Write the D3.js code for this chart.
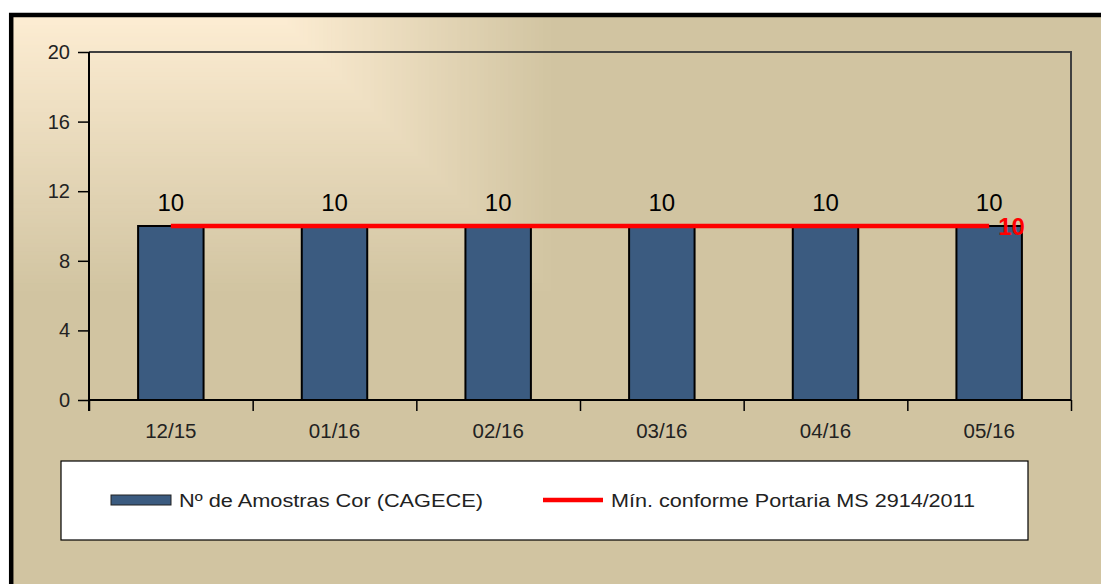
<!DOCTYPE html>
<html>
<head>
<meta charset="utf-8">
<script src="https://cdn.jsdelivr.net/npm/d3@7"></script>
<style>
  body { margin: 0; background: #ffffff; }
  text { font-family: "Liberation Sans", Arial, sans-serif; }
</style>
</head>
<body>
<div id="chart"></div>
<script>
// data
var months = ["12/15", "01/16", "02/16", "03/16", "04/16", "05/16"];
var amostras = [10, 10, 10, 10, 10, 10];
var minimo = [10, 10, 10, 10, 10, 10];
var yTicks = [0, 4, 8, 12, 16, 20];
var legendNames = ["Nº de Amostras Cor (CAGECE)", "Mín. conforme Portaria MS 2914/2011"];

var width = 1101, height = 584;
var plot = {left: 89, top: 52, right: 1071, bottom: 400};

var svg = d3.select("#chart")
    .append("svg")
    .attr("width", width)
    .attr("height", height);

// background, darker tan everywhere
svg.append("rect")
    .attr("x", 11).attr("y", 15)
    .attr("width", width).attr("height", height)
    .attr("fill", "#d1c4a1");

// rectangular gradient coming from the top left corner
var light = "#fdedd3", dark = "#d1c4a1";
var steps = 70;
var bg = svg.append("g").attr("class", "bg");
for (var i = 0; i <= steps; i++) {
  var t = 1 - i / steps;
  bg.append("rect")
      .attr("x", 11)
      .attr("y", 15)
      .attr("width", 280 + 275 * t - 11)
      .attr("height", 17 + 278 * t - 15)
      .attr("fill", d3.interpolateRgb(light, dark)(t));
}

// outer frame
svg.append("rect")
    .attr("x", 11.2).attr("y", 15)
    .attr("width", width + 20).attr("height", height + 20)
    .attr("fill", "none")
    .attr("stroke", "#000")
    .attr("stroke-width", 4.5);

// scales
var y = d3.scaleLinear()
    .domain([0, 20])
    .range([plot.bottom, plot.top]);

var x = d3.scaleBand()
    .domain(months)
    .range([plot.left, plot.right])
    .paddingInner(0.6)
    .paddingOuter(0.3);

var xEdges = d3.scaleLinear()
    .domain([0, months.length])
    .range([plot.left, plot.right]);

// top and right border of plot area
svg.append("path")
    .attr("d", "M" + plot.left + "," + plot.top + "H" + plot.right + "V" + plot.bottom)
    .attr("fill", "none")
    .attr("stroke", "#404040")
    .attr("stroke-width", 2);

// bars
svg.append("g")
  .selectAll("rect")
    .data(amostras)
  .enter().append("rect")
    .attr("x", function(d, i) { return x(months[i]); })
    .attr("y", function(d) { return y(d); })
    .attr("width", x.bandwidth())
    .attr("height", function(d) { return y(0) - y(d); })
    .attr("fill", "#3b5b80")
    .attr("stroke", "#000")
    .attr("stroke-width", 2);

// value labels
svg.append("g")
  .selectAll("text")
    .data(amostras)
  .enter().append("text")
    .attr("x", function(d, i) { return x(months[i]) + x.bandwidth() / 2; })
    .attr("y", function(d) { return y(d) - 15; })
    .attr("text-anchor", "middle")
    .style("font-size", "24px")
    .attr("fill", "#000")
    .text(function(d) { return d; });

// y axis
var gy = svg.append("g")
    .attr("transform", "translate(" + plot.left + ",0)")
    .call(d3.axisLeft(y).tickValues(yTicks).tickSize(11).tickPadding(8));
gy.select(".domain").attr("stroke", "#000").attr("stroke-width", 2)
    .attr("d", "M0," + plot.top + "V" + (plot.bottom + 11));
gy.selectAll(".tick line").attr("stroke", "#000").attr("stroke-width", 1.5);
gy.selectAll("text").style("font-size", "20px").attr("fill", "#222");

// x axis: tick marks on category edges
var gx = svg.append("g")
    .attr("transform", "translate(0," + plot.bottom + ")")
    .call(d3.axisBottom(xEdges).tickValues(d3.range(months.length + 1)).tickSize(11).tickFormat(""));
gx.select(".domain").attr("stroke", "#000").attr("stroke-width", 2)
    .attr("d", "M" + plot.left + ",0H" + plot.right);
gx.selectAll(".tick line").attr("stroke", "#000").attr("stroke-width", 1.5);

// x axis labels
var gxl = svg.append("g")
    .attr("transform", "translate(0," + plot.bottom + ")")
    .call(d3.axisBottom(x).tickSize(0).tickPadding(23));
gxl.select(".domain").remove();
gxl.selectAll("text").style("font-size", "20.5px").attr("fill", "#222");

// red minimum line
var line = d3.line()
    .x(function(d, i) { return x(months[i]) + x.bandwidth() / 2; })
    .y(function(d) { return y(d); });

svg.append("path")
    .datum(minimo)
    .attr("d", line)
    .attr("fill", "none")
    .attr("stroke", "#ff0000")
    .attr("stroke-width", 4.5);

var last = minimo.length - 1;
svg.append("text")
    .attr("x", x(months[last]) + x.bandwidth() / 2 + 9)
    .attr("y", y(minimo[last]) + 9)
    .style("font-size", "24px")
    .style("font-weight", "bold")
    .attr("fill", "#ff0000")
    .text(minimo[last]);

// legend
var legend = svg.append("g").attr("class", "legend");
legend.append("rect")
    .attr("x", 61).attr("y", 461)
    .attr("width", 967).attr("height", 79)
    .attr("fill", "#fff")
    .attr("stroke", "#000")
    .attr("stroke-width", 1.2);

legend.append("rect")
    .attr("x", 111).attr("y", 495)
    .attr("width", 60).attr("height", 10)
    .attr("fill", "#3b5b80")
    .attr("stroke", "#222")
    .attr("stroke-width", 1);

legend.append("text")
    .attr("x", 179).attr("y", 507)
    .attr("textLength", 304)
    .attr("lengthAdjust", "spacingAndGlyphs")
    .style("font-size", "18px")
    .attr("fill", "#222")
    .text(legendNames[0]);

legend.append("line")
    .attr("x1", 543).attr("x2", 603)
    .attr("y1", 500).attr("y2", 500)
    .attr("stroke", "#ff0000")
    .attr("stroke-width", 4.5);

legend.append("text")
    .attr("x", 611).attr("y", 507)
    .attr("textLength", 364)
    .attr("lengthAdjust", "spacingAndGlyphs")
    .style("font-size", "18px")
    .attr("fill", "#222")
    .text(legendNames[1]);
</script>
</body>
</html>
